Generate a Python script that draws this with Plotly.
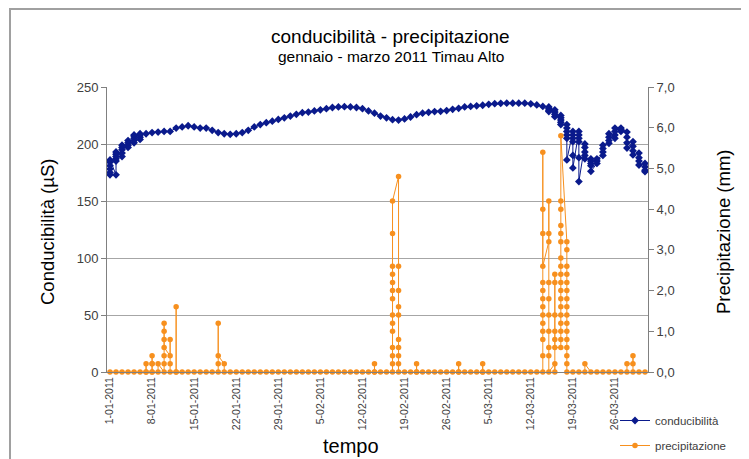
import pandas as pd
import plotly.graph_objects as go

giorni = pd.date_range("2011-01-01", "2011-03-31", freq="D")

# conducibilità (µS): un valore al giorno, oppure la lista delle letture del giorno
cond_gennaio = [
    [173, 175, 178, 181, 184, 186],
    [173, 185, 187, 189, 191, 193],
    [189, 192, 195, 197, 199],
    [197, 199, 201, 203],
    [201, 203, 205, 207, 208],
    [204, 206, 208, 209],
    209, 210, 210.5, 211, 211, 214, 215, 216, 215, 214, 214, 212, 210, 209,
    208.5, 209, 210, 212, 215, 217, 218.7, 220, 221.6, 223, 224.5,
]
cond_febbraio = [
    226, 227.5, 228, 229, 230, 231, 232, 232.5, 232.7, 232.5, 232, 231, 229, 227,
    224.5, 223, 221.3, 221, 222, 223.7, 225.7, 227, 227.8, 228.4, 228.7, 229.3,
    230.4, 231.3,
]
cond_marzo = [
    232.5, 233, 233.5, 234, 234.8, 235.4, 235.7, 235.8, 235.8, 235.8, 235.8,
    235.2, 234.3, 233,
    [232.5, 231, 229.5, 228.4],
    [230, 228, 226, 224],
    [225, 223, 221, 219, 217],
    [217, 214, 211, 208, 205, 186],
    [211, 208, 205, 202, 190, 179],
    [211, 208, 205, 202, 188, 167],
    [200, 197, 193, 190, 187],
    [187, 185, 183, 181, 176],
    [183, 185, 187],
    [190, 193, 196, 199],
    [200.6, 203, 206, 209],
    [205, 208, 211, 214],
    [211, 212.5, 214],
    [210.5, 206, 201, 196.5],
    [202, 198, 194, 190.4],
    [192, 188, 185, 181.6],
    [183, 180, 177, 175.7],
]

# precipitazione (mm): letture dei giorni piovosi, gli altri giorni 0
prec_letture = {
    "2011-01-07": [0, 0.2, 0],
    "2011-01-08": [0, 0.2, 0.4, 0.2, 0],
    "2011-01-09": [0, 0.2],
    "2011-01-10": [0, 0.2, 0.4, 1.2, 1.0, 0.8, 0.6],
    "2011-01-11": [0.4, 0.8, 0.2, 0],
    "2011-01-12": [0, 1.6, 0],
    "2011-01-19": [0, 0.2, 1.2, 0.4],
    "2011-01-20": [0.2, 0],
    "2011-02-14": [0, 0.2, 0],
    "2011-02-17": [0, 0.2, 0.4, 0.6, 1.0, 1.2, 1.4, 1.8, 2.0, 2.2, 2.4, 2.6, 3.4, 4.2],
    "2011-02-18": [4.8, 2.6, 2.0, 1.6, 1.4, 0.8, 0.6, 0.4, 0.2, 0],
    "2011-02-21": [0, 0.2, 0],
    "2011-02-28": [0, 0.2, 0],
    "2011-03-04": [0, 0.2, 0],
    "2011-03-14": [0, 0.4, 0.8, 1.0, 1.2, 1.4, 1.6, 1.8, 2.0, 2.2, 3.4, 4.0, 5.4, 2.6],
    "2011-03-15": [3.2, 3.4, 4.2, 2.2, 1.8, 1.4, 1.0, 0.6, 0.4, 0],
    "2011-03-16": [0.2, 0, 2.4, 2.2, 1.4, 1.0, 0.8, 0.6],
    "2011-03-17": [0.6, 0.8, 1.0, 1.2, 1.4, 1.6, 1.8, 2.0, 2.2, 2.4, 2.6, 2.8,
                   3.2, 3.4, 3.6, 4.0, 4.2, 5.8],
    "2011-03-18": [3.2, 3.0, 2.6, 2.4, 2.2, 2.0, 1.8, 1.6, 1.4, 1.2, 1.0, 0.8,
                   0.6, 0.4, 0.2, 0],
    "2011-03-21": [0, 0.2],
    "2011-03-28": [0, 0.2],
    "2011-03-29": [0.2, 0.4, 0],
}

tick_date = pd.date_range("2011-01-01", "2011-03-31", freq="7D")
tick_text = [f"{d.day}-{d.month:02d}-{d.year}" for d in tick_date]

FONT = "Liberation Sans, Arial, sans-serif"
BLU = "#0a1a8c"
ARANCIO = "#f7901e"

# la pagina ha 8px di margine: la figura è più piccola e spostata di 8px
W, H = 741, 451
L, T, PW, PH = 99, 79, 541, 285


def px(x):  # x in pixel della pagina -> coordinate paper
    return (x - 8 - L) / PW


def py(y):
    return (T + PH - (y - 8)) / PH


# appiattisce le letture: più letture nello stesso giorno stanno sulla stessa x
cond_x, cond_y = [], []
for g, v in zip(giorni, cond_gennaio + cond_febbraio + cond_marzo):
    for lettura in (v if isinstance(v, list) else [v]):
        cond_x.append(g)
        cond_y.append(lettura)

prec_x, prec_y = [], []
for g in giorni:
    for lettura in prec_letture.get(g.strftime("%Y-%m-%d"), [0]):
        prec_x.append(g)
        prec_y.append(lettura)

fig = go.Figure()

fig.add_trace(go.Scatter(
    x=cond_x, y=cond_y, name="conducibilità", mode="lines+markers",
    line=dict(color=BLU, width=1),
    marker=dict(symbol="diamond", size=6, color=BLU),
    cliponaxis=False, legendgroup="a",
))

fig.add_trace(go.Scatter(
    x=prec_x, y=prec_y, name="precipitazione", mode="lines+markers",
    yaxis="y2", line=dict(color=ARANCIO, width=1),
    marker=dict(symbol="circle", size=5.5, color=ARANCIO),
    cliponaxis=False, legendgroup="b",
))

titolo = dict(xref="paper", yref="paper", showarrow=False,
              xanchor="center", yanchor="middle")

fig.update_layout(
    width=W, height=H,
    margin=dict(l=L, r=W - L - PW, t=T, b=H - T - PH, autoexpand=False),
    paper_bgcolor="white", plot_bgcolor="white",
    font=dict(family=FONT, color="#404040"),
    separators=",.",
    xaxis=dict(
        type="date",
        range=["2010-12-31 12:00", "2011-03-31 12:00"],
        tickvals=tick_date, ticktext=tick_text, tickangle=-90,
        tickfont=dict(size=10.5, color="#404040"),
        showgrid=False, showline=True, linecolor="#808080", linewidth=1,
        ticks="", zeroline=False, automargin=False,
    ),
    yaxis=dict(
        range=[0, 250], dtick=50, tickfont=dict(size=13),
        showgrid=True, gridcolor="#a6a6a6", gridwidth=1,
        showline=True, linecolor="#808080", ticks="outside", ticklen=5,
        tickcolor="#808080", zeroline=False, automargin=False,
    ),
    yaxis2=dict(
        range=[0, 7], dtick=1, tickformat=".1f", tickfont=dict(size=13),
        overlaying="y", side="right", showgrid=False,
        showline=True, linecolor="#808080", ticks="outside", ticklen=5,
        tickcolor="#808080", zeroline=False, automargin=False,
    ),
    showlegend=True,
    legend=dict(
        xref="container", yref="container",
        x=607 / W, y=1 - 398 / H, xanchor="left", yanchor="top",
        font=dict(size=11.5, color="#404040"), bgcolor="rgba(0,0,0,0)",
        tracegroupgap=6, traceorder="grouped",
    ),
    shapes=[dict(
        type="rect", xref="paper", yref="paper",
        x0=px(10), x1=px(800), y0=py(520), y1=py(9),
        line=dict(color="#a0a0a0", width=2), layer="below",
    )],
    annotations=[
        dict(text="conducibilità - precipitazione", x=px(390), y=py(37),
             font=dict(size=19, color="#000000"), **titolo),
        dict(text="gennaio - marzo 2011 Timau Alto", x=px(391), y=py(57),
             font=dict(size=15.5, color="#000000"), **titolo),
        dict(text="Conducibilità (µS)", x=px(47), y=py(232), textangle=-90,
             font=dict(size=18.5, color="#000000"), **titolo),
        dict(text="Precipitazione (mm)", x=px(723), y=py(232), textangle=-90,
             font=dict(size=18.5, color="#000000"), **titolo),
        dict(text="tempo", x=px(351), y=py(446),
             font=dict(size=20, color="#000000"), **titolo),
    ],
)

fig.write_html("out.html")
